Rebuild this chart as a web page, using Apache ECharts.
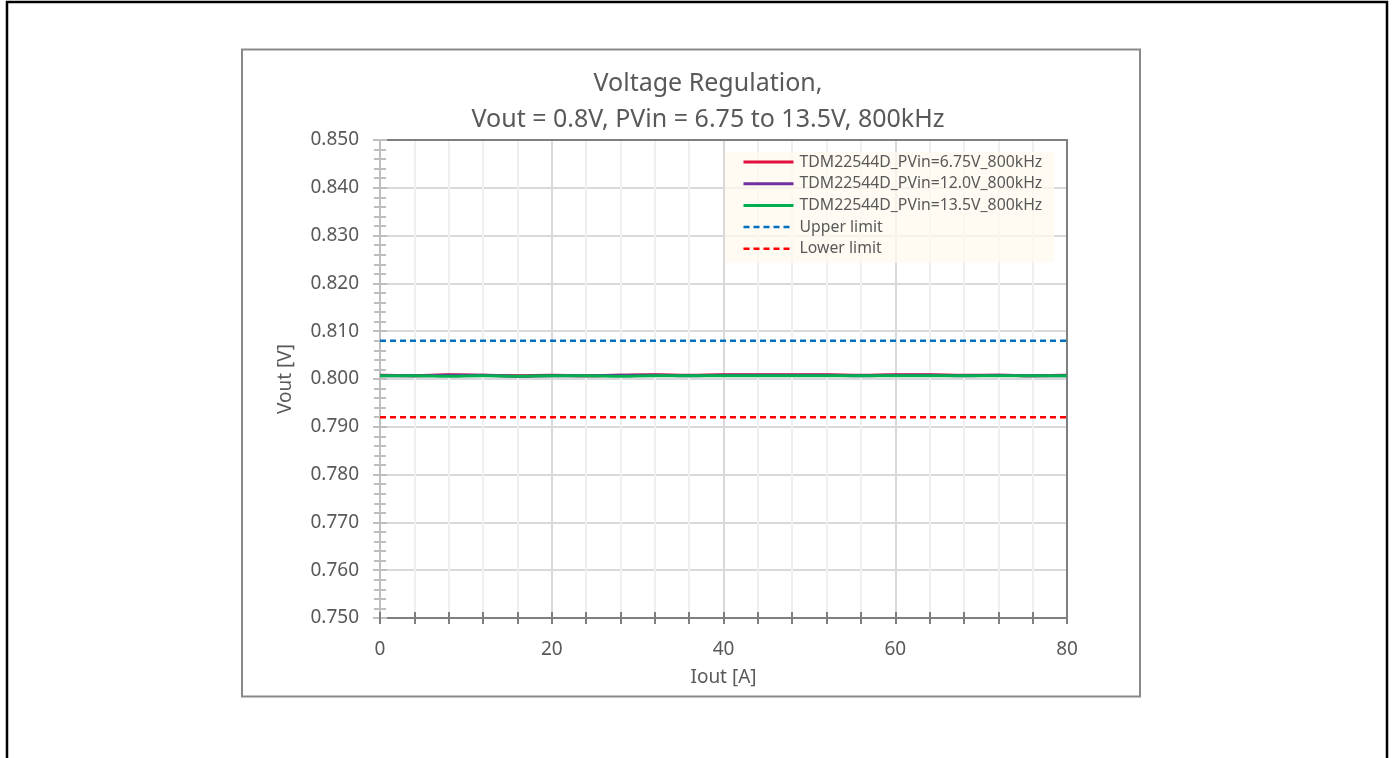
<!DOCTYPE html>
<html>
<head>
<meta charset="utf-8">
<title>Voltage Regulation</title>
<script src="https://cdn.jsdelivr.net/npm/echarts@6/dist/echarts.min.js"></script>
<style>
  html, body { margin: 0; padding: 0; background: #ffffff; }
  #chart { width: 1394px; height: 758px; }
</style>
</head>
<body>
<div id="chart"></div>
<script>
// Load current [A]
const iout = [0, 4, 8, 12, 16, 20, 24, 28, 32, 36, 40, 44, 48, 52, 56, 60, 64, 68, 72, 76, 80];

// Output voltage [V] per input voltage
const vout675 = [0.8008, 0.8007, 0.8009, 0.8008, 0.8007, 0.8008, 0.8007, 0.8008, 0.8009, 0.8008, 0.8009,
                 0.8009, 0.8009, 0.8009, 0.8008, 0.8009, 0.8009, 0.8008, 0.8008, 0.8007, 0.8008];
const vout120 = [0.8007, 0.8007, 0.8008, 0.8008, 0.8006, 0.8007, 0.8007, 0.8008, 0.8008, 0.8007, 0.8008,
                 0.8008, 0.8008, 0.8008, 0.8007, 0.8008, 0.8008, 0.8007, 0.8008, 0.8007, 0.8007];
const vout135 = [0.8007, 0.8007, 0.8006, 0.8007, 0.8006, 0.8007, 0.8007, 0.8006, 0.8007, 0.8007, 0.8007,
                 0.8007, 0.8007, 0.8007, 0.8007, 0.8007, 0.8007, 0.8007, 0.8007, 0.8007, 0.8007];

// Regulation window
const upperLimit = 0.808;
const lowerLimit = 0.792;

const seriesNames = [
  'TDM22544D_PVin=6.75V_800kHz',
  'TDM22544D_PVin=12.0V_800kHz',
  'TDM22544D_PVin=13.5V_800kHz',
  'Upper limit',
  'Lower limit'
];

const xTitle = 'Iout [A]';
const yTitle = 'Vout [V]';
const chartTitle = 'Voltage Regulation,\nVout = 0.8V, PVin = 6.75 to 13.5V, 800kHz';

const FONT = '"Noto Sans", sans-serif';
const TXT = '#595959';

const pairs = (xs, ys) => xs.map((x, i) => [x, ys[i]]);
const flat = (v) => [[iout[0], v], [iout[iout.length - 1], v]];

const chart = echarts.init(document.getElementById('chart'), null, { renderer: 'canvas' });

const xBase = { type: 'value', min: 0, max: 80, gridIndex: 0 };
const yBase = { type: 'value', min: 0.75, max: 0.85, gridIndex: 0 };

// legend swatches: solid measurement lines are drawn thicker than the dashed limits
const legendData = seriesNames.map((name, i) => ({
  name: name,
  lineStyle: { width: i < 3 ? 3 : 2.5 }
}));

chart.setOption({
  animation: false,
  backgroundColor: '#ffffff',
  textStyle: { fontFamily: FONT },
  title: {
    text: chartTitle,
    left: 703,
    top: 61,
    textAlign: 'center',
    textStyle: { fontFamily: FONT, fontSize: 25, fontWeight: 'normal', color: TXT, lineHeight: 36 }
  },
  graphic: [
    { type: 'rect', shape: { x: 7, y: 2, width: 1380, height: 800 }, style: { fill: 'none', stroke: '#000', lineWidth: 2.5 }, silent: true, z: -10 },
    { type: 'rect', shape: { x: 242, y: 49.5, width: 898, height: 647 }, style: { fill: 'none', stroke: '#898989', lineWidth: 2 }, silent: true, z: -10 }
  ],
  grid: { left: 380, right: 327, top: 140, bottom: 140, containLabel: false },
  legend: {
    orient: 'vertical',
    left: 725,
    top: 152,
    padding: [2, 12, 6, 17],
    backgroundColor: 'rgba(255,250,238,0.75)',
    itemWidth: 50,
    itemHeight: 14,
    itemGap: 5.7,
    itemStyle: { opacity: 0 },
    textStyle: { fontFamily: FONT, fontSize: 15.8, color: TXT, lineHeight: 16, padding: [0, 0, 0, 1] },
    data: legendData
  },
  xAxis: [
    Object.assign({}, xBase, {
      interval: 4,
      position: 'bottom',
      name: xTitle,
      nameLocation: 'middle',
      nameGap: 50,
      nameTextStyle: { fontFamily: FONT, fontSize: 19, color: TXT },
      axisLine: { show: true, onZero: false, lineStyle: { color: '#7f7f7f', width: 2 } },
      axisTick: { show: true, length: 6, lineStyle: { color: '#7f7f7f', width: 2 } },
      axisLabel: { show: true, margin: 22, fontFamily: FONT, fontSize: 19, color: TXT,
        formatter: (v) => (v % 20 === 0 ? String(v) : '') },
      splitLine: { show: true, lineStyle: { color: '#efefef', width: 2 } }
    }),
    Object.assign({}, xBase, {
      interval: 4,
      position: 'bottom',
      axisLine: { show: false, onZero: false },
      axisTick: { show: true, inside: true, length: 6, lineStyle: { color: '#7f7f7f', width: 2 } },
      axisLabel: { show: false },
      splitLine: { show: false }
    }),
    Object.assign({}, xBase, {
      interval: 20,
      position: 'bottom',
      axisLine: { show: false, onZero: false },
      axisTick: { show: false },
      axisLabel: { show: false },
      splitLine: { show: true, lineStyle: { color: '#d9d9d9', width: 2 } }
    }),
    Object.assign({}, xBase, {
      interval: 20,
      position: 'top',
      axisLine: { show: true, onZero: false, lineStyle: { color: '#7f7f7f', width: 2 } },
      axisTick: { show: false },
      axisLabel: { show: false },
      splitLine: { show: false }
    })
  ],
  yAxis: [
    Object.assign({}, yBase, {
      interval: 0.01,
      position: 'left',
      name: yTitle,
      nameLocation: 'middle',
      nameGap: 85,
      nameTextStyle: { fontFamily: FONT, fontSize: 19, color: TXT },
      axisLine: { show: true, onZero: false, lineStyle: { color: '#bfbfbf', width: 2 } },
      axisTick: { show: true, length: 7, lineStyle: { color: '#bfbfbf', width: 2 } },
      minorTick: { show: true, splitNumber: 5, length: 6, lineStyle: { color: '#bfbfbf', width: 2 } },
      axisLabel: { show: true, margin: 21, fontFamily: FONT, fontSize: 19, color: TXT,
        formatter: (v) => v.toFixed(3) },
      splitLine: { show: true, lineStyle: { color: '#d9d9d9', width: 2 } }
    }),
    Object.assign({}, yBase, {
      interval: 0.01,
      position: 'left',
      axisLine: { show: false, onZero: false },
      axisTick: { show: true, inside: true, length: 7, lineStyle: { color: '#bfbfbf', width: 2 } },
      minorTick: { show: true, splitNumber: 5, length: 6, lineStyle: { color: '#bfbfbf', width: 2 } },
      axisLabel: { show: false },
      splitLine: { show: false }
    }),
    Object.assign({}, yBase, {
      interval: 0.01,
      position: 'right',
      axisLine: { show: true, onZero: false, lineStyle: { color: '#7f7f7f', width: 2 } },
      axisTick: { show: false },
      axisLabel: { show: false },
      splitLine: { show: false }
    })
  ],
  series: [
    { name: seriesNames[0], type: 'line', data: pairs(iout, vout675), symbol: 'none', smooth: true,
      lineStyle: { color: '#e0103c', width: 3 }, itemStyle: { color: '#e0103c' }, z: 3 },
    { name: seriesNames[1], type: 'line', data: pairs(iout, vout120), symbol: 'none', smooth: true,
      lineStyle: { color: '#7030a0', width: 3 }, itemStyle: { color: '#7030a0' }, z: 4 },
    { name: seriesNames[2], type: 'line', data: pairs(iout, vout135), symbol: 'none', smooth: true,
      lineStyle: { color: '#00b050', width: 3 }, itemStyle: { color: '#00b050' }, z: 5 },
    { name: seriesNames[3], type: 'line', data: flat(upperLimit), symbol: 'none',
      lineStyle: { color: '#0070c0', width: 2.5, type: [6, 4] }, itemStyle: { color: '#0070c0' }, z: 2 },
    { name: seriesNames[4], type: 'line', data: flat(lowerLimit), symbol: 'none',
      lineStyle: { color: '#ff0000', width: 2.5, type: [6, 4] }, itemStyle: { color: '#ff0000' }, z: 2 }
  ]
});
</script>
</body>
</html>
